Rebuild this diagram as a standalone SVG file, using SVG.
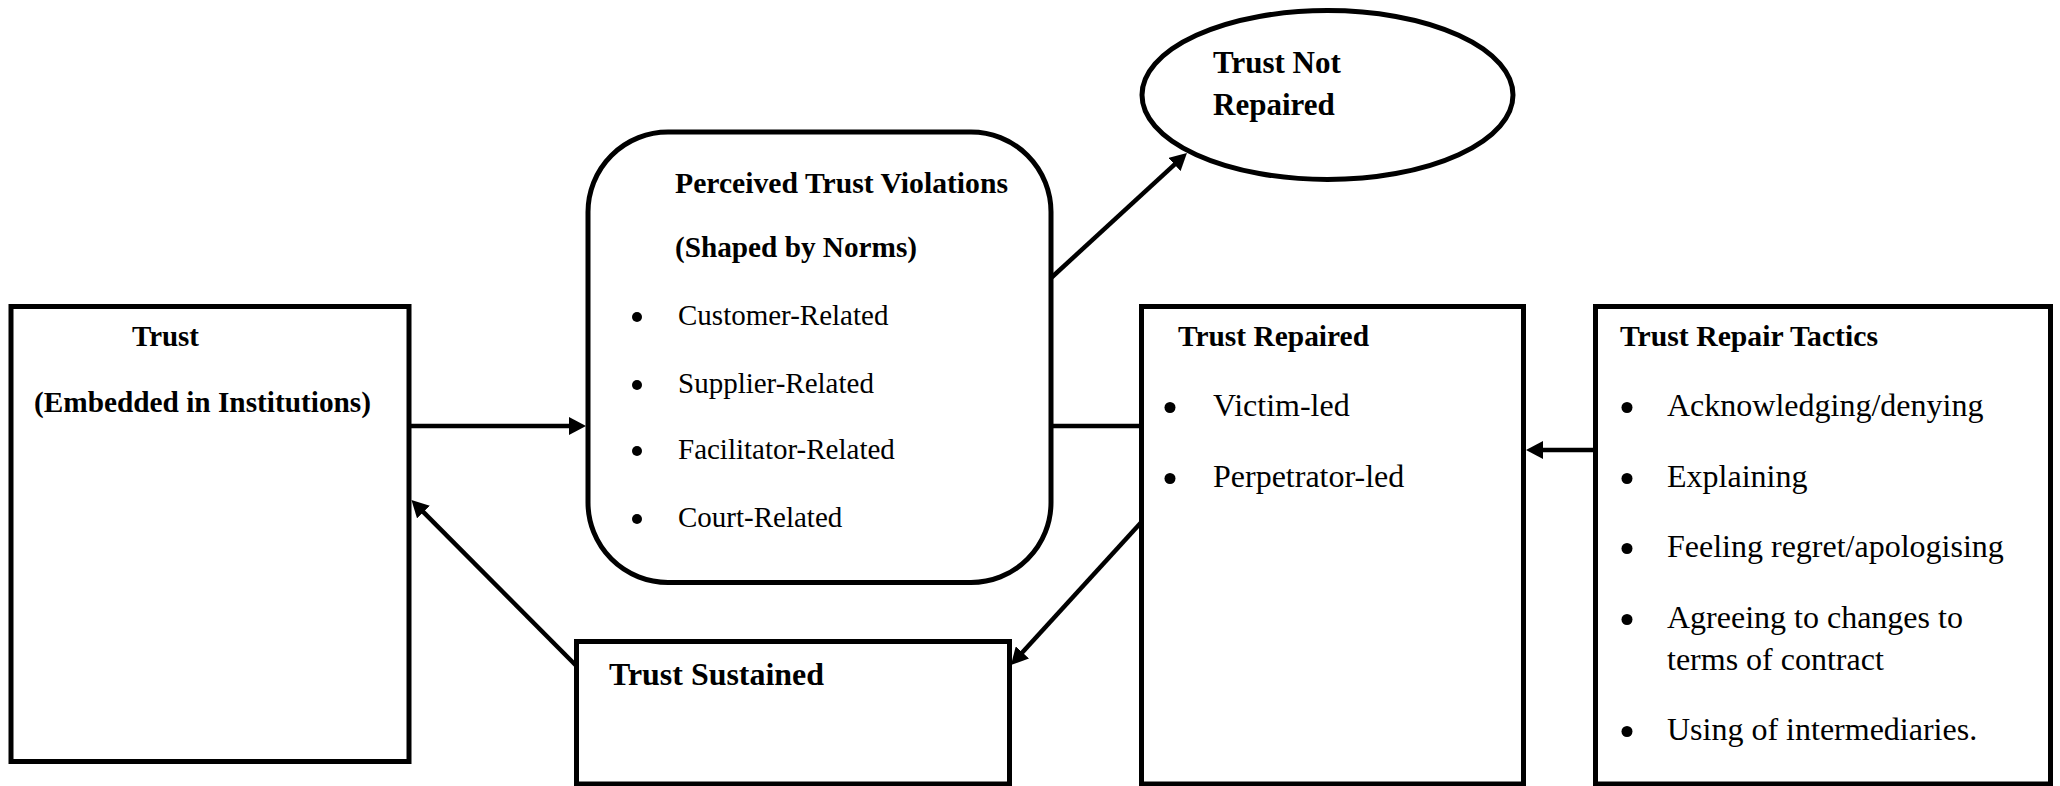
<svg xmlns="http://www.w3.org/2000/svg" width="2060" height="786" viewBox="0 0 2060 786">
  <style>
    .box { fill: #ffffff; stroke: #000000; stroke-width: 5; }
    .conn { fill: none; stroke: #000000; stroke-width: 4.5; }
    .hd { font-family: "Liberation Serif", "Times New Roman", serif; font-weight: bold; font-size: 29.5px; fill: #000000; }
    .tx { font-family: "Liberation Serif", "Times New Roman", serif; font-size: 29px; fill: #000000; }
    .tx32 { font-family: "Liberation Serif", "Times New Roman", serif; font-size: 32px; fill: #000000; }
    .dot { fill: #000000; }
  </style>
  <defs>
    <marker id="arrow" viewBox="0 0 17 18" markerWidth="17" markerHeight="18" refX="7" refY="9" orient="auto" markerUnits="userSpaceOnUse">
      <path d="M0,0 L17,9 L0,18 Z" fill="#000000"/>
    </marker>
  </defs>
  <rect x="0" y="0" width="2060" height="786" fill="#ffffff"/>

  <!-- connectors -->
  <g id="connectors">
    <line class="conn" x1="409" y1="426" x2="576" y2="426" marker-end="url(#arrow)"/>
    <line class="conn" x1="1051" y1="278" x2="1179.6" y2="159.8" marker-end="url(#arrow)"/>
    <line class="conn" x1="1051" y1="426" x2="1141.5" y2="426"/>
    <line class="conn" x1="1595.5" y1="450" x2="1536" y2="450" marker-end="url(#arrow)"/>
    <line class="conn" x1="1141.5" y1="522" x2="1017.7" y2="657.6" marker-end="url(#arrow)"/>
    <line class="conn" x1="576.5" y1="666" x2="418.5" y2="507.1" marker-end="url(#arrow)"/>
  </g>

  <!-- Trust -->
  <g id="trust">
    <rect class="box" x="11" y="306.5" width="398" height="455"/>
    <text class="hd" x="132" y="346" textLength="67" lengthAdjust="spacingAndGlyphs">Trust</text>
    <text class="hd" x="34" y="412" textLength="337" lengthAdjust="spacingAndGlyphs">(Embedded in Institutions)</text>
  </g>

  <!-- Perceived trust violations -->
  <g id="violations">
    <rect class="box" x="588" y="132" width="463" height="450.5" rx="80" ry="80"/>
    <text class="hd" x="675" y="192.7" textLength="333" lengthAdjust="spacingAndGlyphs">Perceived Trust Violations</text>
    <text class="hd" x="675" y="256.5" textLength="242" lengthAdjust="spacingAndGlyphs">(Shaped by Norms)</text>
    <circle class="dot" cx="637" cy="317" r="5"/>
    <text class="tx" x="678" y="325">Customer-Related</text>
    <circle class="dot" cx="637" cy="385" r="5"/>
    <text class="tx" x="678" y="392.7">Supplier-Related</text>
    <circle class="dot" cx="637" cy="451" r="5"/>
    <text class="tx" x="678" y="459">Facilitator-Related</text>
    <circle class="dot" cx="637" cy="519" r="5"/>
    <text class="tx" x="678" y="527">Court-Related</text>
  </g>

  <!-- Trust not repaired -->
  <g id="not-repaired">
    <ellipse class="box" cx="1327.5" cy="95" rx="185.5" ry="84.5"/>
    <text class="hd" style="font-size:31px" x="1213" y="73">Trust Not</text>
    <text class="hd" style="font-size:31px" x="1213" y="115">Repaired</text>
  </g>

  <!-- Trust repaired -->
  <g id="repaired">
    <rect class="box" x="1141.5" y="306.5" width="382" height="477.5"/>
    <text class="hd" x="1178" y="346" textLength="191" lengthAdjust="spacingAndGlyphs">Trust Repaired</text>
    <circle class="dot" cx="1170" cy="407.5" r="5.5"/>
    <text class="tx32" x="1213" y="416">Victim-led</text>
    <circle class="dot" cx="1170" cy="478.5" r="5.5"/>
    <text class="tx32" x="1213" y="487">Perpetrator-led</text>
  </g>

  <!-- Trust repair tactics -->
  <g id="tactics">
    <rect class="box" x="1595.5" y="306.5" width="455" height="477.5"/>
    <text class="hd" x="1620" y="346" textLength="258" lengthAdjust="spacingAndGlyphs">Trust Repair Tactics</text>
    <circle class="dot" cx="1627" cy="407.5" r="5.5"/>
    <text class="tx32" x="1667" y="416">Acknowledging/denying</text>
    <circle class="dot" cx="1627" cy="478.5" r="5.5"/>
    <text class="tx32" x="1667" y="487">Explaining</text>
    <circle class="dot" cx="1627" cy="548.5" r="5.5"/>
    <text class="tx32" x="1667" y="557">Feeling regret/apologising</text>
    <circle class="dot" cx="1627" cy="619.5" r="5.5"/>
    <text class="tx32" x="1667" y="628">Agreeing to changes to</text>
    <text class="tx32" x="1667" y="670">terms of contract</text>
    <circle class="dot" cx="1627" cy="731.5" r="5.5"/>
    <text class="tx32" x="1667" y="740">Using of intermediaries.</text>
  </g>

  <!-- Trust sustained -->
  <g id="sustained">
    <rect class="box" x="576.5" y="641.5" width="433" height="142.5"/>
    <text class="hd" style="font-size:31.5px" x="609" y="685" textLength="215" lengthAdjust="spacingAndGlyphs">Trust Sustained</text>
  </g>
</svg>
